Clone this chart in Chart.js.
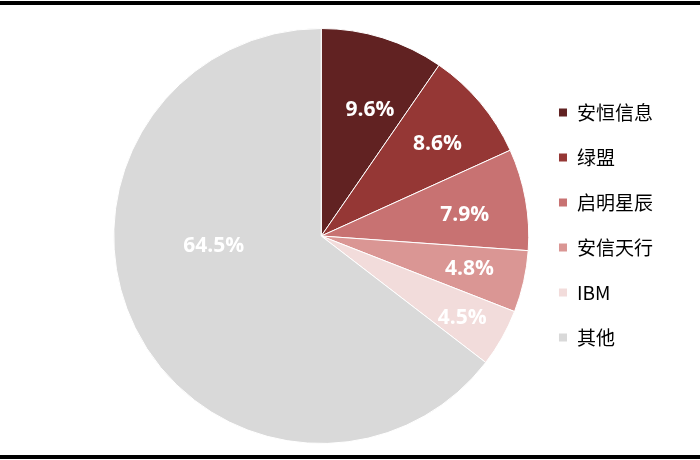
<!DOCTYPE html>
<html>
<head>
<meta charset="utf-8">
<script src="https://cdn.jsdelivr.net/npm/chart.js@4"></script>
<style>
    html, body { margin: 0; padding: 0; background: #fff; }
    #wrap { position: relative; width: 700px; height: 460px; }
    .rule { position: absolute; left: 0; width: 700px; height: 4px; background: #000; }
</style>
</head>
<body>
<div id="wrap">
    <div class="rule" style="top:1px"></div>
    <canvas id="shareChart" width="700" height="460"></canvas>
    <div class="rule" style="top:455px"></div>
</div>
<script>
const vendors = ['安恒信息', '绿盟', '启明星辰', '安信天行', 'IBM', '其他'];
const shares = [9.6, 8.6, 7.9, 4.8, 4.5, 64.5];

const sliceColors = ['#612222', '#953735', '#C87272', '#DA9694', '#F2DCDB', '#D9D9D9'];

// where each percentage sits: fraction of radius, and a nudge off the mid angle (deg)
const labelRadius = [0.66, 0.72, 0.70, 0.73, 0.78, 0.52];
const labelNudge = [3.5, 1, 1, -1, 0, 22];

const sliceLabels = {
    id: 'sliceLabels',
    afterDatasetsDraw(chart) {
        const ctx = chart.ctx;
        const arcs = chart.getDatasetMeta(0).data;
        ctx.save();
        ctx.fillStyle = '#fff';
        ctx.font = "bold 21px 'Open Sans', sans-serif";
        ctx.textAlign = 'center';
        ctx.textBaseline = 'middle';
        arcs.forEach((arc, i) => {
            const p = arc.getProps(['x', 'y', 'startAngle', 'endAngle', 'outerRadius'], true);
            const mid = (p.startAngle + p.endAngle) / 2 + labelNudge[i] * Math.PI / 180;
            const r = p.outerRadius * labelRadius[i];
            ctx.fillText(shares[i].toFixed(1) + '%', p.x + r * Math.cos(mid), p.y + r * Math.sin(mid) + 2);
        });
        ctx.restore();
    }
};

// legend list sits a bit above the pie's centre in the original
const legendLift = {
    id: 'legendLift',
    afterLayout(chart) {
        if (chart.legend) chart.legend.top -= 22;
    }
};

new Chart(document.getElementById('shareChart'), {
    type: 'pie',
    data: {
        labels: vendors,
        datasets: [{
            data: shares,
            backgroundColor: sliceColors,
            borderColor: '#fff',
            borderWidth: 1
        }]
    },
    options: {
        responsive: false,
        animation: false,
        layout: {
            padding: { left: 110, right: 37, top: 28, bottom: 16 }
        },
        plugins: {
            legend: {
                position: 'right',
                labels: {
                    color: '#000',
                    boxWidth: 9,
                    boxHeight: 9,
                    padding: 26,
                    font: { family: "'Noto Sans CJK SC', sans-serif", size: 19 }
                }
            },
            tooltip: { enabled: false }
        }
    },
    plugins: [sliceLabels, legendLift]
});
</script>
</body>
</html>
